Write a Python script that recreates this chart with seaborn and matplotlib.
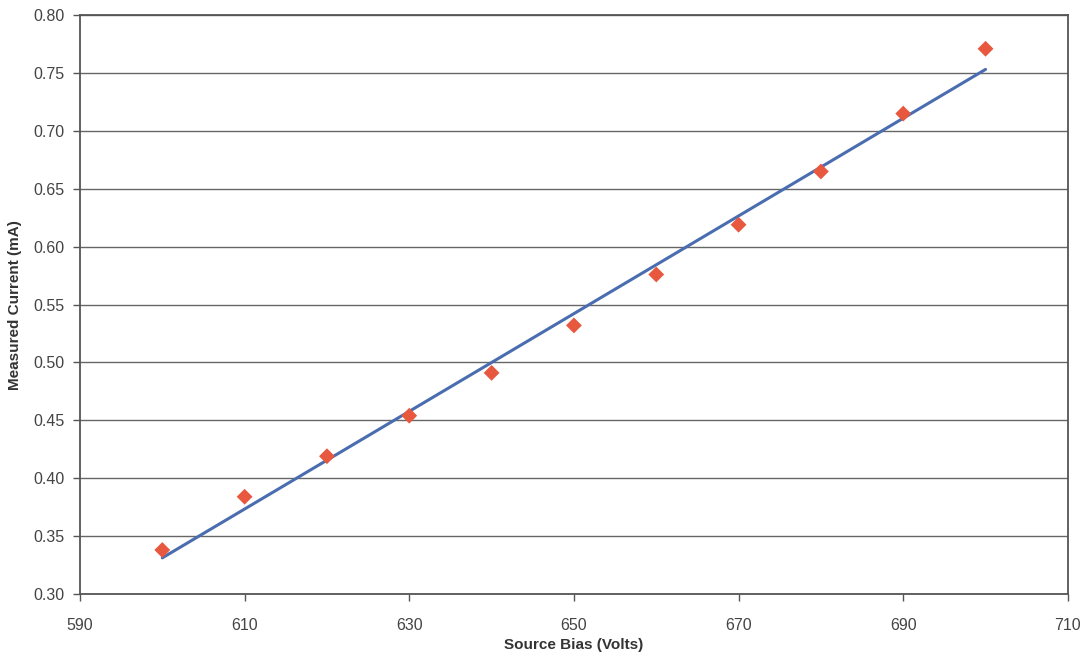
import numpy as np
import pandas as pd
import matplotlib
matplotlib.use("Agg")
import matplotlib.pyplot as plt
import seaborn as sns

# data
source_bias = [600, 610, 620, 630, 640, 650, 660, 670, 680, 690, 700]
current_ma = [0.338, 0.384, 0.419, 0.454, 0.491, 0.532, 0.576, 0.619, 0.665, 0.715, 0.771]
x_ticks = [590, 610, 630, 650, 670, 690, 710]
y_ticks = [0.30, 0.35, 0.40, 0.45, 0.50, 0.55, 0.60, 0.65, 0.70, 0.75, 0.80]

df = pd.DataFrame({"bias": source_bias, "current": current_ma})

sns.set_style("white")
plt.rcParams["font.family"] = ["Liberation Sans", "DejaVu Sans"]

fig = plt.figure(figsize=(10.88, 6.61), dpi=100)
ax = fig.add_axes([0.0735, 0.1014, 0.908, 0.8756])

# horizontal grid
for y in y_ticks:
    ax.axhline(y, color="#666666", lw=1.0, zorder=0)

# linear trendline
sns.regplot(data=df, x="bias", y="current", scatter=False, ci=None,
            truncate=True, color="#4a6db0", line_kws={"lw": 2.2, "zorder": 2}, ax=ax)
# measured points
sns.scatterplot(data=df, x="bias", y="current", marker="D", s=65,
                color="#e8583f", edgecolor="none", zorder=3, ax=ax)

ax.set_xlim(590, 710)
ax.set_ylim(0.30, 0.80)
ax.set_xticks(x_ticks)
ax.set_yticks(y_ticks)
ax.set_yticklabels([f"{v:.2f}" for v in y_ticks])
ax.tick_params(axis="both", direction="out", length=5, width=1, color="#555555",
               labelsize=11.5, labelcolor="#444444", bottom=True, left=True)
ax.tick_params(axis="x", pad=12)
ax.tick_params(axis="y", pad=6)

for s in ax.spines.values():
    s.set_color("#555555")
    s.set_linewidth(1.3)

ax.set_xlabel("Source Bias (Volts)", fontsize=11, fontweight="bold", color="#333333", labelpad=4)
ax.set_ylabel("Measured Current (mA)", fontsize=11, fontweight="bold", color="#333333", labelpad=8)

fig.savefig("out.png", dpi=100)
